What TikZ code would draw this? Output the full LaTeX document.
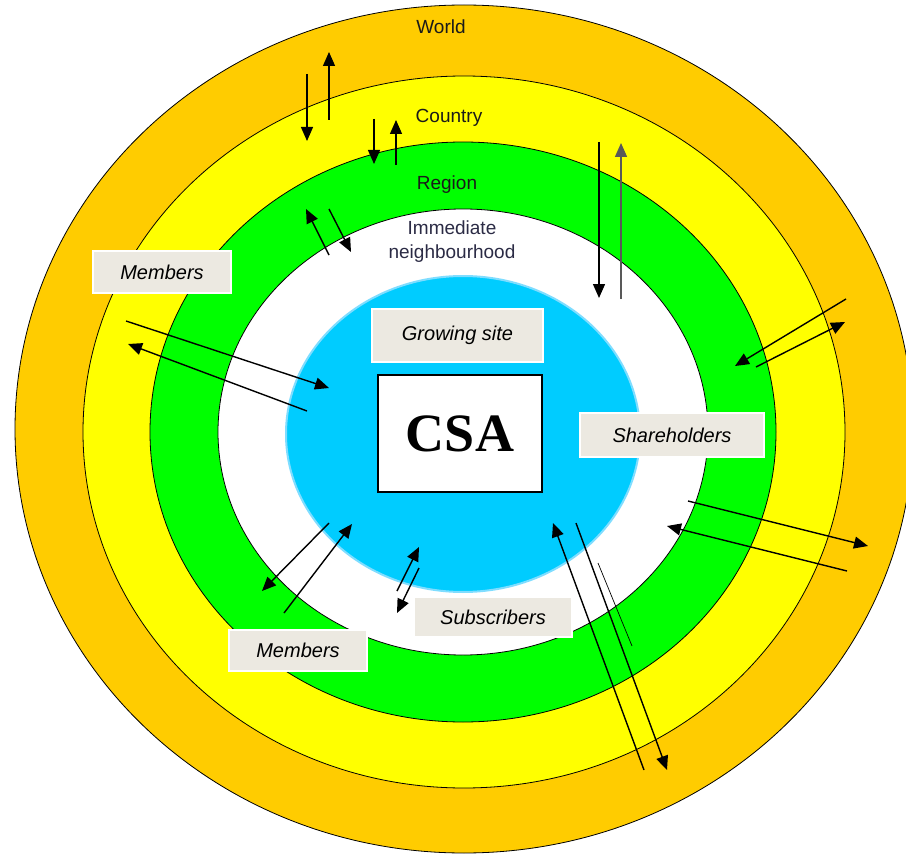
\documentclass[tikz,border=0pt]{standalone}
\usepackage{fontspec}
\setmainfont{Liberation Sans}
\newfontfamily\csafont{Liberation Serif}
\usetikzlibrary{arrows.meta}
\definecolor{worldc}{HTML}{FFCC00}
\definecolor{countryc}{HTML}{FFFF00}
\definecolor{regionc}{HTML}{00FF00}
\definecolor{sitec}{HTML}{00CCFF}
\definecolor{siteedge}{HTML}{7FDDFF}
\definecolor{tagfill}{HTML}{ECE9E1}
\definecolor{ringtext}{HTML}{1A1A1A}
\definecolor{hoodtext}{HTML}{2B2B45}
\begin{document}
\begin{tikzpicture}[x=1pt,y=-1pt,
  ring/.style={draw=black, line width=0.8pt},
  flow/.style={line width=1.4pt, -{Triangle[length=14pt,width=12pt]}},
  tag/.style={fill=tagfill, draw=white, line width=2pt, inner sep=0pt,
    font=\fontsize{20}{24}\selectfont\itshape},
  ringlabel/.style={font=\fontsize{19}{23}\selectfont, text=ringtext, inner sep=0pt}]
\useasboundingbox (0,0) rectangle (906,856);
\fill[white] (0,0) rectangle (906,856);
\clip (0,0) rectangle (906,856);

% concentric spheres of the CSA
\filldraw[ring, fill=worldc]   (464,429) ellipse [x radius=449pt, y radius=424pt];
\filldraw[ring, fill=countryc] (464,432) ellipse [x radius=381pt, y radius=356pt];
\filldraw[ring, fill=regionc]  (463,432) ellipse [x radius=313pt, y radius=290pt];
\filldraw[ring, fill=white]    (463,432) ellipse [x radius=245pt, y radius=223pt];
\filldraw[draw=siteedge, line width=2pt, fill=sitec] (463,434) ellipse [x radius=177pt, y radius=158pt];

% sphere names
\node[ringlabel] (world)   at (441,27)  {World};
\node[ringlabel] (country) at (449,118) {Country};
\node[ringlabel] (region)  at (447,185) {Region};
\node[ringlabel, text=hoodtext, align=center] (hood) at (452,241.5)
  {Immediate\\[1pt]neighbourhood};

% centre and actor tags
\node[draw=black, line width=1.5pt, fill=white, minimum width=164pt, minimum height=117pt,
  font=\csafont\bfseries\fontsize{54}{60}\selectfont] (csa) at (460,433.5) {CSA};
\node[tag, minimum width=171pt, minimum height=53pt] (site)    at (457.5,335.5) {Growing site};
\node[tag, minimum width=138pt, minimum height=42pt] (memtop)  at (162,272)   {Members};
\node[tag, minimum width=184pt, minimum height=44pt] (share)   at (672,435)   {Shareholders};
\node[tag, minimum width=158pt, minimum height=40pt] (subs)    at (493,617)   {Subscribers};
\node[tag, minimum width=138pt, minimum height=41pt] (membot)  at (298,650.5) {Members};

% arrow end points
\coordinate (a1s) at (307,74);   \coordinate (a1e) at (307,141);
\coordinate (a2s) at (329,120);  \coordinate (a2e) at (329,52);
\coordinate (a3s) at (374,119);  \coordinate (a3e) at (374,164);
\coordinate (a4s) at (396,165);  \coordinate (a4e) at (396,120);
\coordinate (a5s) at (329,255);  \coordinate (a5e) at (306,209);
\coordinate (a6s) at (329,209);  \coordinate (a6e) at (351,252);
\coordinate (a7s) at (599,142);  \coordinate (a7e) at (599,298);
\coordinate (a8s) at (621,299);  \coordinate (a8e) at (621,143);
\coordinate (a9s) at (846,299);  \coordinate (a9e) at (735,366);
\coordinate (b0s) at (756,367);  \coordinate (b0e) at (845,322);
\coordinate (b1s) at (126,321);  \coordinate (b1e) at (329,388);
\coordinate (b2s) at (307,411);  \coordinate (b2e) at (128,344);
\coordinate (b3s) at (688,501);  \coordinate (b3e) at (868,546);
\coordinate (b4s) at (847,571);  \coordinate (b4e) at (667,526);
\coordinate (b5s) at (644,770);  \coordinate (b5e) at (553,523);
\coordinate (b6s) at (576,523);  \coordinate (b6e) at (667,770);
\coordinate (b7s) at (598,563);  \coordinate (b7e) at (632,646);
\coordinate (b8s) at (329,523);  \coordinate (b8e) at (262,591);
\coordinate (b9s) at (284,613);  \coordinate (b9e) at (352,524);
\coordinate (c0s) at (397,591);  \coordinate (c0e) at (419,547);
\coordinate (c1s) at (419,568);  \coordinate (c1e) at (397,613);

% exchanges between the spheres
\draw[flow] (a1s) -- (a1e);
\draw[flow] (a2s) -- (a2e);
\draw[flow] (a3s) -- (a3e);
\draw[flow] (a4s) -- (a4e);
\draw[flow] (a5s) -- (a5e);
\draw[flow] (a6s) -- (a6e);
\draw[flow] (a7s) -- (a7e);
\draw[flow, draw=black!65, fill=black] (a8s) -- (a8e);
\draw[flow] (a9s) -- (a9e);
\draw[flow] (b0s) -- (b0e);
\draw[flow] (b1s) -- (b1e);
\draw[flow] (b2s) -- (b2e);
\draw[flow] (b3s) -- (b3e);
\draw[flow] (b4s) -- (b4e);
\draw[flow] (b5s) -- (b5e);
\draw[flow] (b6s) -- (b6e);
\draw[line width=0.7pt] (b7s) -- (b7e);
\draw[flow] (b8s) -- (b8e);
\draw[flow] (b9s) -- (b9e);
\draw[flow] (c0s) -- (c0e);
\draw[flow] (c1s) -- (c1e);
\end{tikzpicture}
\end{document}
